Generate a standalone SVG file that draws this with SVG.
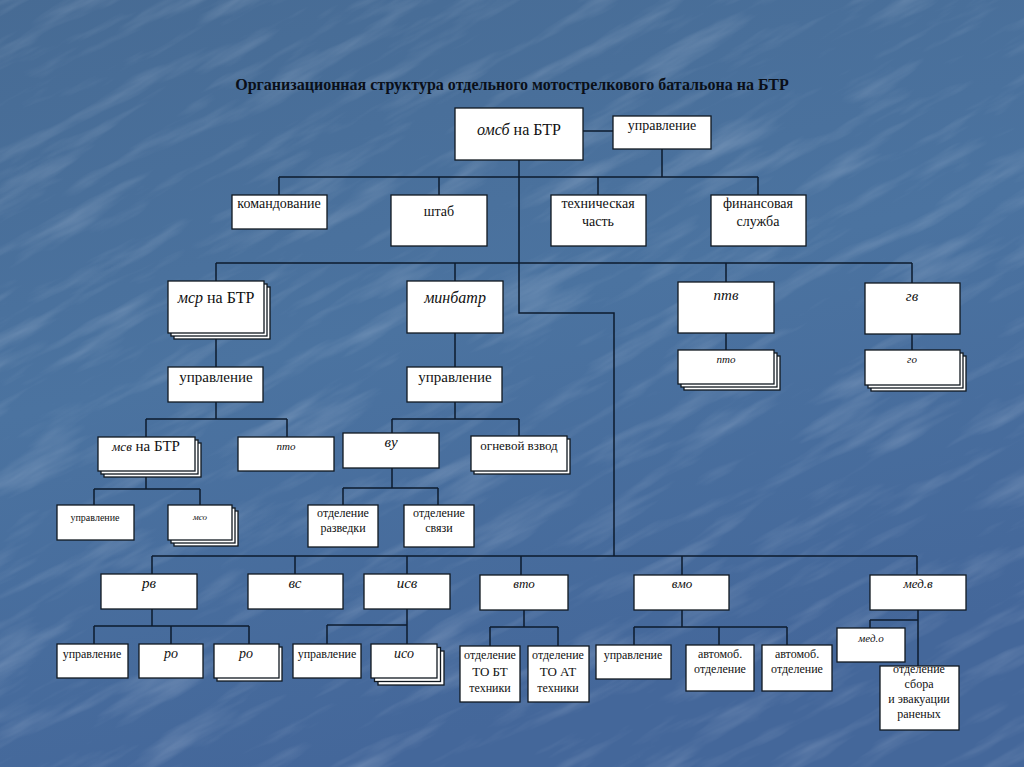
<svg xmlns="http://www.w3.org/2000/svg" width="1024" height="767" viewBox="0 0 1024 767">
<defs>
<linearGradient id="bg" x1="0" y1="0" x2="0.3" y2="1">
<stop offset="0" stop-color="#476b94"/>
<stop offset="0.5" stop-color="#4b73a0"/>
<stop offset="1" stop-color="#44679a"/>
</linearGradient>
<filter id="tex" x="0" y="0" width="100%" height="100%">
<feTurbulence type="fractalNoise" baseFrequency="0.008 0.05" numOctaves="4" seed="11" result="n"/>
<feColorMatrix type="matrix" values="0 0 0 0 0.85  0 0 0 0 0.9  0 0 0 0 1  0 0 1.6 0 -0.8"/>
</filter>
<style>
.b{fill:#fff;stroke:#101820;stroke-width:1.3}
.c{fill:none;stroke:#0d1b2e;stroke-width:1.5}
.t{font-family:"Liberation Serif","Times New Roman",serif;font-size:14px;fill:#111;text-anchor:middle}
.i{font-style:italic}
.h{font-family:"Liberation Serif","Times New Roman",serif;font-size:16px;font-weight:bold;fill:#0a0f18;text-anchor:middle}
</style>
</defs>
<rect width="1024" height="767" fill="url(#bg)"/>
<g transform="rotate(-28 512 383)"><rect x="-400" y="-400" width="1850" height="1600" filter="url(#tex)" opacity="0.28"/></g>
<text class="h" x="512" y="90">Организационная структура отдельного мотострелкового батальона на БТР</text>

<g id="connectors" class="c">
<path d="M583 131H613"/>
<path d="M662 149V177M279 177H758M279 177V195M439 177V195M598 177V195M758 177V195"/>
<path d="M519 160V313H614V556"/>
<path d="M216 263H912M216 263V281M455 263V281M726 263V282M912 263V283"/>
<path d="M726 333V350M912 334V350"/>
<path d="M216 333V367M216 402V419M146 419H287M146 419V437M287 419V437"/>
<path d="M455 333V367M455 402V419M392 419H519M392 419V433M519 419V436"/>
<path d="M146 471V489M94 489H200M94 489V505M200 489V505"/>
<path d="M392 468V488M343 488H438M343 488V505M438 488V505"/>
<path d="M152 556H917M152 556V574M295 556V574M407 556V574M521 556V575M682 556V575M917 556V575"/>
<path d="M152 609V626M94 626H249M94 626V644M171 626V644M249 626V644"/>
<path d="M407 609V644M327 625H407M327 625V644"/>
<path d="M524 610V627M490 627H558M490 627V646M558 627V646"/>
<path d="M682 610V627M634 627H787M634 627V645M719 627V645M787 627V645"/>
<path d="M918 610V667M870 620H918M870 620V628"/>
</g>

<g id="omsb"><rect class="b" x="455" y="108" width="128" height="52"/><text class="t" x="519" y="135" style="font-size:16px"><tspan class="i">омсб</tspan> на БТР</text></g>
<g id="upravlenie-top"><rect class="b" x="613" y="116" width="98" height="33"/><text class="t" x="662" y="130">управление</text></g>
<g id="komandovanie"><rect class="b" x="232" y="195" width="95" height="34"/><text class="t" x="279" y="208">командование</text></g>
<g id="shtab"><rect class="b" x="391" y="195" width="96" height="51"/><text class="t" x="439" y="216">штаб</text></g>
<g id="tech"><rect class="b" x="551" y="195" width="95" height="51"/><text class="t" x="598" y="208">техническая</text><text class="t" x="598" y="226">часть</text></g>
<g id="fin"><rect class="b" x="711" y="195" width="95" height="51"/><text class="t" x="758" y="208">финансовая</text><text class="t" x="758" y="226">служба</text></g>

<g id="msr"><rect class="b" x="174" y="287" width="96" height="52"/><rect class="b" x="171" y="284" width="96" height="52"/><rect class="b" x="168" y="281" width="96" height="52"/><text class="t" x="216" y="303" style="font-size:16px"><tspan class="i">мср</tspan> на БТР</text></g>
<g id="minbatr"><rect class="b" x="407" y="281" width="96" height="52"/><text class="t i" x="455" y="303" style="font-size:16px">минбатр</text></g>
<g id="ptv"><rect class="b" x="678" y="282" width="96" height="51"/><text class="t i" x="726" y="300" style="font-size:15px">птв</text></g>
<g id="gv"><rect class="b" x="865" y="283" width="95" height="51"/><text class="t i" x="912" y="301" style="font-size:15px">гв</text></g>
<g id="pto-ptv"><rect class="b" x="684" y="356" width="96" height="34"/><rect class="b" x="681" y="353" width="96" height="34"/><rect class="b" x="678" y="350" width="96" height="34"/><text class="t i" x="726" y="363" style="font-size:11px">пто</text></g>
<g id="go"><rect class="b" x="871" y="356" width="95" height="35"/><rect class="b" x="868" y="353" width="95" height="35"/><rect class="b" x="865" y="350" width="95" height="35"/><text class="t i" x="912" y="363" style="font-size:11px">го</text></g>

<g id="upr-msr"><rect class="b" x="168" y="367" width="95" height="35"/><text class="t" x="216" y="382" style="font-size:15px">управление</text></g>
<g id="upr-minbatr"><rect class="b" x="407" y="367" width="95" height="35"/><text class="t" x="455" y="382" style="font-size:15px">управление</text></g>

<g id="msv"><rect class="b" x="104" y="443" width="97" height="34"/><rect class="b" x="101" y="440" width="97" height="34"/><rect class="b" x="98" y="437" width="97" height="34"/><text class="t" x="146" y="451" style="font-size:15px"><tspan class="i" style="font-size:13px">мсв</tspan> на БТР</text></g>
<g id="pto-msr"><rect class="b" x="238" y="437" width="96" height="34"/><text class="t i" x="286" y="450" style="font-size:11px">пто</text></g>
<g id="vu"><rect class="b" x="343" y="433" width="96" height="35"/><text class="t i" x="391" y="447" style="font-size:15px">ву</text></g>
<g id="ognevoy"><rect class="b" x="474" y="439" width="96" height="35"/><rect class="b" x="471" y="436" width="96" height="35"/><text class="t" x="519" y="450" style="font-size:13px">огневой взвод</text></g>

<g id="upr-msv"><rect class="b" x="57" y="505" width="77" height="35"/><text class="t" x="95" y="521" style="font-size:10px">управление</text></g>
<g id="mso"><rect class="b" x="174" y="511" width="64" height="35"/><rect class="b" x="171" y="508" width="64" height="35"/><rect class="b" x="168" y="505" width="64" height="35"/><text class="t i" x="200" y="520" style="font-size:9px">мсо</text></g>
<g id="razvedki"><rect class="b" x="308" y="505" width="70" height="42"/><text class="t" x="343" y="517" style="font-size:12px">отделение</text><text class="t" x="343" y="532" style="font-size:12px">разведки</text></g>
<g id="svyazi"><rect class="b" x="404" y="505" width="70" height="42"/><text class="t" x="439" y="517" style="font-size:12px">отделение</text><text class="t" x="439" y="532" style="font-size:12px">связи</text></g>

<g id="rv"><rect class="b" x="101" y="574" width="96" height="35"/><text class="t i" x="149" y="588" style="font-size:15px">рв</text></g>
<g id="vs"><rect class="b" x="248" y="574" width="95" height="35"/><text class="t i" x="295" y="588" style="font-size:15px">вс</text></g>
<g id="isv"><rect class="b" x="364" y="574" width="86" height="35"/><text class="t i" x="407" y="588" style="font-size:15px">исв</text></g>
<g id="vto"><rect class="b" x="480" y="575" width="88" height="35"/><text class="t i" x="524" y="588" style="font-size:13px">вто</text></g>
<g id="vmo"><rect class="b" x="634" y="575" width="95" height="35"/><text class="t i" x="682" y="588" style="font-size:13px">вмо</text></g>
<g id="medv"><rect class="b" x="870" y="575" width="96" height="35"/><text class="t i" x="918" y="588" style="font-size:13px">мед.в</text></g>

<g id="upr-rv"><rect class="b" x="57" y="644" width="71" height="34"/><text class="t" x="92" y="658" style="font-size:12px">управление</text></g>
<g id="ro1"><rect class="b" x="139" y="644" width="64" height="34"/><text class="t i" x="171" y="658">ро</text></g>
<g id="ro2"><rect class="b" x="217" y="647" width="65" height="34"/><rect class="b" x="214" y="644" width="65" height="34"/><text class="t i" x="246" y="658">ро</text></g>
<g id="upr-isv"><rect class="b" x="293" y="644" width="68" height="34"/><text class="t" x="327" y="658" style="font-size:12px">управление</text></g>
<g id="iso"><rect class="b" x="378" y="651" width="66" height="34"/><rect class="b" x="374.5" y="647.5" width="66" height="34"/><rect class="b" x="371" y="644" width="66" height="34"/><text class="t i" x="404" y="658">исо</text></g>
<g id="to-bt"><rect class="b" x="460" y="646" width="60" height="56"/><text class="t" x="490" y="659" style="font-size:12px">отделение</text><text class="t" x="490" y="676" style="font-size:13px">ТО БТ</text><text class="t" x="490" y="692" style="font-size:12px">техники</text></g>
<g id="to-at"><rect class="b" x="528" y="646" width="61" height="56"/><text class="t" x="558" y="659" style="font-size:12px">отделение</text><text class="t" x="558" y="676" style="font-size:13px">ТО АТ</text><text class="t" x="558" y="692" style="font-size:12px">техники</text></g>
<g id="upr-vmo"><rect class="b" x="596" y="645" width="75" height="34"/><text class="t" x="633" y="659" style="font-size:12px">управление</text></g>
<g id="avto1"><rect class="b" x="686" y="645" width="68" height="46"/><text class="t" x="720" y="658" style="font-size:12px">автомоб.</text><text class="t" x="720" y="673" style="font-size:12px">отделение</text></g>
<g id="avto2"><rect class="b" x="762" y="645" width="70" height="46"/><text class="t" x="797" y="658" style="font-size:12px">автомоб.</text><text class="t" x="797" y="673" style="font-size:12px">отделение</text></g>
<g id="medo"><rect class="b" x="837" y="628" width="68" height="34"/><text class="t i" x="871" y="642" style="font-size:11px">мед.о</text></g>
<g id="sbora"><rect class="b" x="880" y="666" width="79" height="64"/><text class="t" x="919" y="673" style="font-size:12px">отделение</text><text class="t" x="919" y="688" style="font-size:12px">сбора</text><text class="t" x="919" y="703" style="font-size:12px">и эвакуации</text><text class="t" x="919" y="718" style="font-size:12px">раненых</text></g>
</svg>
